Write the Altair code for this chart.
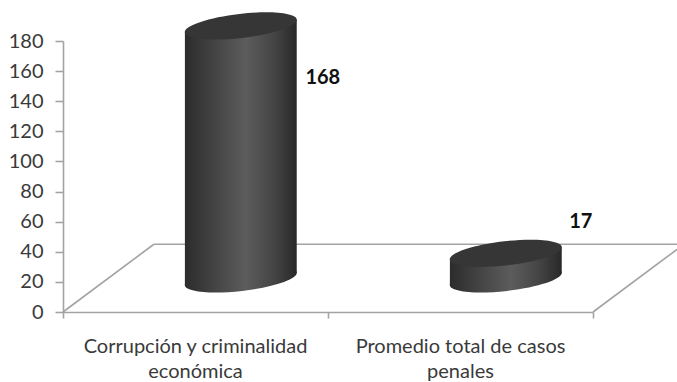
import altair as alt
import pandas as pd

# Chart values
categories = ["Corrupción y criminalidad\neconómica", "Promedio total de casos\npenales"]
values = [168, 17]
y_ticks = [0, 20, 40, 60, 80, 100, 120, 140, 160, 180]

# Fake-3D geometry, in axis units
FLOOR_DEPTH = 45
FLOOR_SHEAR = 0.343
BASE_LIFT = 22
CYL_SHIFT = 0.171
CYL_HALF = 0.211
TILT = 4
ELLIPSE = "M -0.9936 0.1132 A 1 0.215 -6.5 1 1 0.9936 -0.1132 A 1 0.215 -6.5 1 1 -0.9936 0.1132 Z"
ELLIPSE_SIZE = 12723

FONT = "Lato"
GRID = "#a3a3a3"
TEXT = "#3a3a3a"


def side_gradient(stops):
    return alt.LinearGradient(
        gradient="linear", x1=0, x2=1, y1=0, y2=0,
        stops=[alt.GradientStop(offset=o, color=c) for o, c in stops],
    )


body_fill = side_gradient([(0, "#2c2c2c"), (0.3, "#474747"), (0.55, "#5c5c5c"), (0.8, "#444444"), (1, "#282828")])

x_scale = alt.Scale(domain=[0, 2], nice=False, zero=False)
y_scale = alt.Scale(domain=[0, 180], nice=False)

# Every layer carries the same axis definitions so that they merge cleanly
x_axis = alt.Axis(values=[0, 1, 2], labels=False, grid=False, tickSize=6, tickColor=GRID,
                  domainColor=GRID, tickWidth=1.6, domainWidth=1.6)
y_axis = alt.Axis(values=y_ticks, grid=False, tickSize=8, tickColor=GRID, domainColor=GRID,
                  tickWidth=1.6, domainWidth=1.6, labelFont=FONT, labelFontSize=20,
                  labelColor=TEXT, labelPadding=12, labelOverlap=False)
enc_x = lambda field: alt.X(field, scale=x_scale, axis=x_axis, title=None)
enc_y = lambda field: alt.Y(field, scale=y_scale, axis=y_axis, title=None)

centers = [i + 0.5 + CYL_SHIFT for i in range(len(values))]

# Floor outline: left edge, back edge, right edge (cut at the canvas border)
floor_rows = []
edge_x = 2 + FLOOR_SHEAR * 0.93
for name, pts in {
    "left": [(0, 0), (FLOOR_SHEAR, FLOOR_DEPTH)],
    "back": [(FLOOR_SHEAR, FLOOR_DEPTH), (edge_x, FLOOR_DEPTH)],
    "right": [(2, 0), (edge_x, FLOOR_DEPTH * 0.93)],
}.items():
    floor_rows += [{"edge": name, "x": a, "y": b} for a, b in pts]
floor = alt.Chart(pd.DataFrame(floor_rows)).mark_line(color=GRID, strokeWidth=1.6).encode(
    x=enc_x("x:Q"),
    y=enc_y("y:Q"),
    detail="edge:N",
)

# Cylinder walls: a slanted band from each base to the top
wall_rows = []
for i, (c, v) in enumerate(zip(centers, values)):
    wall_rows.append({"s": i, "x": c - CYL_HALF, "y": BASE_LIFT + v - TILT, "y2": BASE_LIFT - TILT})
    wall_rows.append({"s": i, "x": c + CYL_HALF, "y": BASE_LIFT + v + TILT, "y2": BASE_LIFT + TILT})
walls = alt.Chart(pd.DataFrame(wall_rows)).mark_area(fill=body_fill, line=False).encode(
    x=enc_x("x:Q"),
    y=enc_y("y:Q"),
    y2="y2:Q",
    detail="s:N",
)

cyl = pd.DataFrame({"x": centers, "base": [BASE_LIFT] * len(values),
                    "top": [BASE_LIFT + v for v in values]})
bottoms = alt.Chart(cyl).mark_point(filled=True, shape=ELLIPSE, size=ELLIPSE_SIZE, fill=body_fill,
                                    opacity=1, strokeWidth=0).encode(
    x=enc_x("x:Q"),
    y=enc_y("base:Q"),
)
tops = alt.Chart(cyl).mark_point(filled=True, shape=ELLIPSE, size=ELLIPSE_SIZE, fill="#363636",
                                 opacity=1, strokeWidth=0).encode(
    x=enc_x("x:Q"),
    y=enc_y("top:Q"),
)

# Category labels sit below the axis, centred on each band
cat_df = pd.DataFrame({"x": [i + 0.5 for i in range(len(categories))], "y": [0] * len(categories),
                       "label": categories})
cat_labels = alt.Chart(cat_df).mark_text(
    font=FONT, fontSize=20, color=TEXT, baseline="middle", dy=35, lineBreak="\n", lineHeight=25,
).encode(x=enc_x("x:Q"), y=enc_y("y:Q"), text="label:N")

# Value labels, each nudged clear of its cylinder
nudges = [(82, 19), (75, -64)]
value_labels = [
    alt.Chart(pd.DataFrame({"x": [c], "y": [v], "label": [str(v)]})).mark_text(
        font=FONT, fontSize=20, fontWeight="bold", color="#111111", dx=dx, dy=dy,
    ).encode(x=enc_x("x:Q"), y=enc_y("y:Q"), text="label:N")
    for c, v, (dx, dy) in zip(centers, values, nudges)
]

chart = alt.layer(floor, bottoms, walls, tops, cat_labels, *value_labels).properties(
    width=530,
    height=271,
    autosize=alt.AutoSizeParams(type="none"),
    padding={"left": 63, "top": 41, "right": 84, "bottom": 70},
    background="white",
).configure_view(stroke=None)

chart.save("out.html", embed_options={"renderer": "svg", "actions": False})
